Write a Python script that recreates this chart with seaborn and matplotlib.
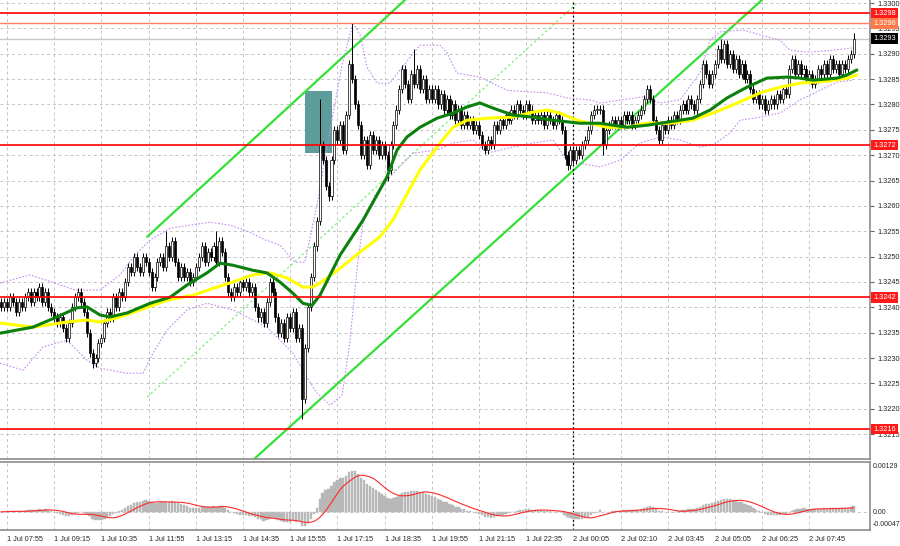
import matplotlib
matplotlib.use('Agg')
import matplotlib.pyplot as plt
import matplotlib.transforms as mtransforms
from matplotlib.patches import Rectangle
import seaborn as sns
import numpy as np
import pandas as pd

sns.set_style('white')
plt.rcParams['font.family'] = ['Liberation Sans Narrow', 'Liberation Sans', 'DejaVu Sans']

# 5-min closes, bar index -2 .. 287 (bar 0 = 1 Jul 07:55)
first_bar = -2
first_open = 1.3241
bar_close = [
    1.3240, 1.3241,
    1.3240, 1.3242, 1.3241, 1.3239, 1.3241, 1.3240, 1.3242, 1.3243, 1.3241, 1.3243, 1.3242, 1.3244, 1.3241, 1.3243, 1.3240, 1.3239,
    1.3238, 1.3237, 1.3238, 1.3236, 1.3234, 1.3237, 1.3240, 1.3242, 1.3243, 1.3241, 1.3239, 1.3235, 1.3231, 1.3229, 1.3230, 1.3233,
    1.3234, 1.3237, 1.3239, 1.3238, 1.3242, 1.3240, 1.3243, 1.3242, 1.3245, 1.3248, 1.3247, 1.3250, 1.3248, 1.3247, 1.3250, 1.3249,
    1.3247, 1.3244, 1.3246, 1.3249, 1.3250, 1.3248, 1.3252, 1.3250, 1.3253, 1.3249, 1.3246, 1.3248, 1.3246, 1.3247, 1.3245, 1.3246,
    1.3248, 1.3250, 1.3252, 1.3249, 1.3251, 1.3250, 1.3252, 1.3249, 1.3253, 1.3251, 1.3246, 1.3243, 1.3242, 1.3244, 1.3243, 1.3245,
    1.3244, 1.3245, 1.3243, 1.3244, 1.3240, 1.3238, 1.3239, 1.3237, 1.3241, 1.3245, 1.3243, 1.3238, 1.3235, 1.3237, 1.3234, 1.3238,
    1.3236, 1.3239, 1.3234, 1.3236, 1.3222, 1.3232, 1.3240, 1.3246, 1.3252, 1.3257, 1.3272, 1.3269, 1.3264, 1.3262, 1.3269, 1.3275,
    1.3273, 1.3276, 1.3271, 1.3278, 1.3288, 1.3285, 1.3280, 1.3276, 1.3270, 1.3273, 1.3268, 1.3274, 1.3271, 1.3273, 1.3270, 1.3272,
    1.3270, 1.3267, 1.3272, 1.3276, 1.3279, 1.3283, 1.3287, 1.3284, 1.3281, 1.3286, 1.3284, 1.3287, 1.3283, 1.3285, 1.3281, 1.3283,
    1.3281, 1.3283, 1.3280, 1.3282, 1.3279, 1.3281, 1.3278, 1.3280, 1.3277, 1.3279, 1.3276, 1.3278, 1.3276, 1.3277, 1.3275, 1.3276,
    1.3274, 1.3272, 1.3271, 1.3273, 1.3272, 1.3276, 1.3275, 1.3277, 1.3276, 1.3278, 1.3277, 1.3279, 1.3278, 1.3280, 1.3279, 1.3278,
    1.3280, 1.3279, 1.3277, 1.3278, 1.3277, 1.3278, 1.3276, 1.3278, 1.3277, 1.3276, 1.3278, 1.3277, 1.3275, 1.3270, 1.3268, 1.3271,
    1.3269, 1.3271, 1.3270, 1.3272, 1.3273, 1.3275, 1.3278, 1.3279, 1.3279, 1.3279, 1.3272, 1.3275, 1.3276, 1.3277, 1.3276, 1.3277,
    1.3276, 1.3278, 1.3277, 1.3278, 1.3276, 1.3277, 1.3278, 1.3279, 1.3281, 1.3283, 1.3281, 1.3277, 1.3275, 1.3273, 1.3276, 1.3275,
    1.3277, 1.3276, 1.3278, 1.3277, 1.3279, 1.3280, 1.3279, 1.3281, 1.3280, 1.3279, 1.3281, 1.3284, 1.3288, 1.3286, 1.3284, 1.3286,
    1.3288, 1.3291, 1.3289, 1.3292, 1.3288, 1.3290, 1.3287, 1.3289, 1.3286, 1.3288, 1.3285, 1.3286, 1.3283, 1.3281, 1.3282, 1.3280,
    1.3281, 1.3279, 1.3280, 1.3281, 1.3280, 1.3282, 1.3281, 1.3283, 1.3282, 1.3287, 1.3289, 1.3286, 1.3288, 1.3286, 1.3287, 1.3285,
    1.3286, 1.3284, 1.3285, 1.3287, 1.3286, 1.3288, 1.3286, 1.3289, 1.3287, 1.3288, 1.3286, 1.3288, 1.3287, 1.3289, 1.3290, 1.3293,
]
# long wicks that stick out
spike_high = {54: 1.3255, 71: 1.3255, 106: 1.3281, 117: 1.3296, 138: 1.3291, 242: 1.3293, 287: 1.3294}
spike_low = {29: 1.3228, 100: 1.3218, 109: 1.3261, 129: 1.3265, 190: 1.3267, 202: 1.3270}

# moving averages (green = 30, yellow = 50)
ma_green_i = [-2.4, 8.8, 16.9, 23.7, 27.1, 31.5, 34.9, 40.7, 48.5, 55.3, 61.0, 67.8, 72.2, 76.6, 83.4, 88.1,
              92.5, 96.9, 100.3, 103.4, 106.1, 112.9, 120.7, 128.8, 132.2, 135.6, 140.0, 145.8, 151.2, 155.9,
              160.3, 164.7, 171.5, 178.3, 185.1, 194.2, 201.0, 210.2, 216.9, 221.4, 232.5, 238.3, 244.1,
              250.8, 257.6, 264.4, 268.8, 273.2, 281.4, 284.7, 288.1]
ma_green_p = [1.32349, 1.32361, 1.32381, 1.32399, 1.32401, 1.32385, 1.32381, 1.32389, 1.32408, 1.32420,
              1.32444, 1.32468, 1.32487, 1.32483, 1.32473, 1.32468, 1.32450, 1.32428, 1.32408, 1.32404,
              1.32424, 1.32503, 1.32572, 1.32657, 1.32710, 1.32736, 1.32755, 1.32773, 1.32783, 1.32795,
              1.32803, 1.32793, 1.32779, 1.32775, 1.32769, 1.32763, 1.32763, 1.32755, 1.32759, 1.32763,
              1.32773, 1.32789, 1.32813, 1.32834, 1.32852, 1.32854, 1.32852, 1.32848, 1.32852, 1.32858, 1.32868]
ma_yellow_i = [-2.4, 8.8, 20.3, 27.1, 31.5, 37.3, 45.1, 54.2, 63.1, 71.2, 76.6, 83.4, 89.2, 94.9, 100.3,
               103.7, 106.1, 112.9, 119.7, 126.4, 130.8, 140.0, 146.8, 151.2, 155.9, 162.7, 171.5, 178.3,
               183.1, 187.5, 193.2, 203.4, 210.2, 216.9, 224.7, 232.5, 239.3, 246.1, 255.3, 262.0, 268.8,
               278.0, 284.7, 288.1]
ma_yellow_p = [1.32369, 1.32361, 1.32371, 1.32375, 1.32371, 1.32379, 1.32395, 1.32414, 1.32424, 1.32440,
               1.32450, 1.32464, 1.32468, 1.32458, 1.32440, 1.32440, 1.32448, 1.32477, 1.32509, 1.32539,
               1.32572, 1.32671, 1.32724, 1.32755, 1.32769, 1.32773, 1.32775, 1.32785, 1.32789, 1.32783,
               1.32769, 1.32755, 1.32755, 1.32763, 1.32763, 1.32769, 1.32783, 1.32799, 1.32823, 1.32834,
               1.32842, 1.32846, 1.32852, 1.32858]

# Bollinger bands
bb_up_i = [-2.4, 7.8, 16.3, 23.1, 31.5, 38.3, 43.4, 48.5, 55.3, 62.0, 68.8, 75.6, 82.4, 87.5, 92.5, 97.6,
           101.0, 105.4, 109.5, 113.6, 117.3, 119.7, 122.0, 125.4, 129.8, 133.2, 140.0, 146.8, 149.2, 152.5,
           160.3, 169.5, 176.3, 183.1, 189.8, 197.6, 201.0, 215.6, 221.4, 228.1, 234.9, 238.3, 241.7, 249.5,
           255.3, 262.0, 265.4, 272.2, 280.0, 285.8, 288.1]
bb_up_p = [1.32448, 1.32464, 1.32448, 1.32434, 1.32434, 1.32464, 1.32503, 1.32533, 1.32556, 1.32562,
           1.32568, 1.32562, 1.32548, 1.32533, 1.32523, 1.32489, 1.32489, 1.32612, 1.32750, 1.32878,
           1.32961, 1.32937, 1.32874, 1.32842, 1.32842, 1.32868, 1.32917, 1.32917, 1.32901, 1.32862,
           1.32854, 1.32828, 1.32825, 1.32823, 1.32813, 1.32809, 1.32803, 1.32815, 1.32803, 1.32809,
           1.32862, 1.32927, 1.32943, 1.32947, 1.32937, 1.32927, 1.32907, 1.32903, 1.32907, 1.32911, 1.32913]
bb_lo_i = [-2.4, 5.4, 12.2, 20.3, 27.1, 31.5, 40.7, 46.1, 49.5, 54.2, 61.0, 67.8, 76.6, 83.4, 88.1, 96.9,
           101.7, 105.1, 109.5, 113.6, 116.3, 118.6, 120.7, 124.7, 129.8, 137.6, 145.8, 151.2, 158.0, 162.7,
           171.5, 178.3, 185.1, 189.8, 194.2, 201.0, 207.8, 214.6, 221.4, 228.1, 234.9, 239.3, 245.1, 248.5,
           255.3, 262.0, 268.8, 275.6, 281.4, 286.8]
bb_lo_p = [1.32290, 1.32276, 1.32322, 1.32335, 1.32296, 1.32280, 1.32270, 1.32270, 1.32310, 1.32355,
           1.32395, 1.32408, 1.32395, 1.32375, 1.32361, 1.32310, 1.32262, 1.32231, 1.32207, 1.32227,
           1.32335, 1.32473, 1.32568, 1.32621, 1.32657, 1.32704, 1.32710, 1.32724, 1.32730, 1.32704,
           1.32716, 1.32724, 1.32730, 1.32690, 1.32684, 1.32677, 1.32690, 1.32724, 1.32736, 1.32730,
           1.32716, 1.32720, 1.32744, 1.32769, 1.32775, 1.32783, 1.32809, 1.32828, 1.32844, 1.32848]

# support / resistance levels
red_levels = [1.3298, 1.3272, 1.3242, 1.3216]
orange_level = 1.3296
last_price = 1.3293

# trend channel (bar index, price)
channel_up = ([47.5, 134.9], [1.32539, 1.33006])
channel_low = ([83.4, 255.9], [1.32099, 1.33006])
channel_mid = ([47.5, 193.2], [1.32223, 1.33000])
signal_box = (101.0, 110.2, 1.32704, 1.32827)

time_ticks = list(range(0, 273, 16))
time_labels = ['1 Jul 07:55', '1 Jul 09:15', '1 Jul 10:35', '1 Jul 11:55', '1 Jul 13:15', '1 Jul 14:35',
               '1 Jul 15:55', '1 Jul 17:15', '1 Jul 18:35', '1 Jul 19:55', '1 Jul 21:15', '1 Jul 22:35',
               '2 Jul 00:05', '2 Jul 02:10', '2 Jul 03:45', '2 Jul 05:05', '2 Jul 06:25', '2 Jul 07:45']
day_split = 192

# ---- candles
idx = np.arange(first_bar, first_bar + len(bar_close))
close = np.array(bar_close)
opn = np.concatenate([[first_open], close[:-1]])
hi = np.maximum(opn, close) + 0.00008
lo = np.minimum(opn, close) - 0.00008
for k, v in spike_high.items():
    hi[k - first_bar] = v
for k, v in spike_low.items():
    lo[k - first_bar] = v

# MACD 12/26/9 from the closes
s = pd.Series(close)
macd = s.ewm(span=12, adjust=False).mean() - s.ewm(span=26, adjust=False).mean()
signal = macd.rolling(9, min_periods=1).mean()

fig = plt.figure(figsize=(9, 5.46), dpi=100)
ax = fig.add_axes([0, 87 / 546, 870 / 900, 459 / 546])
ax2 = fig.add_axes([0, 16 / 546, 870 / 900, 68 / 546], sharex=ax)

grid_kw = dict(color='#c4c4c4', linestyle=(0, (3, 3)), linewidth=0.7)
for a in (ax, ax2):
    a.set_facecolor('white')
    a.grid(True, **grid_kw)
    a.set_axisbelow(True)
    for side in ('top', 'left'):
        a.spines[side].set_visible(False)
    for side in ('bottom', 'right'):
        a.spines[side].set_color('#8c8c8c')
        a.spines[side].set_linewidth(1.2)
ax2.spines['top'].set_visible(True)
ax2.spines['top'].set_color('#8c8c8c')
ax2.spines['top'].set_linewidth(1.2)

ax.set_xlim(-7 / 2.95, 863 / 2.95)
ax.set_ylim(1.32101, 1.33006)

# signal rectangle
x0, x1, y0, y1 = signal_box
ax.add_patch(Rectangle((x0, y0), x1 - x0, y1 - y0, facecolor='#5e9c9c', edgecolor='none', zorder=1.5))

# channel
ax.plot(*channel_up, color='#33e033', lw=1.6, zorder=2)
ax.plot(*channel_low, color='#33e033', lw=1.6, zorder=2)
ax.plot(*channel_mid, color='#7cf07c', lw=0.9, ls=(0, (2, 2)), zorder=2)

# bollinger
sns.lineplot(x=bb_up_i, y=bb_up_p, ax=ax, color='#c58cf0', lw=0.8, linestyle=(0, (1.5, 1.5)), sort=False, zorder=2.5)
sns.lineplot(x=bb_lo_i, y=bb_lo_p, ax=ax, color='#c58cf0', lw=0.8, linestyle=(0, (1.5, 1.5)), sort=False, zorder=2.5)

# candles
up = close >= opn
ax.vlines(idx, lo, hi, color='black', lw=0.7, zorder=3)
body = np.maximum(np.abs(close - opn), 0.00002)
ax.bar(idx[up], body[up], bottom=np.minimum(opn, close)[up], width=0.7, color='white',
       edgecolor='black', linewidth=0.5, zorder=3.2)
ax.bar(idx[~up], body[~up], bottom=np.minimum(opn, close)[~up], width=0.7, color='black',
       edgecolor='black', linewidth=0.5, zorder=3.2)

# moving averages
sns.lineplot(x=ma_yellow_i, y=ma_yellow_p, ax=ax, color='#ffff00', lw=2.2, sort=False, zorder=4)
sns.lineplot(x=ma_green_i, y=ma_green_p, ax=ax, color='#0c800c', lw=2.2, sort=False, zorder=4.2)

# levels
for lv in red_levels:
    ax.axhline(lv, color='#ff0000', lw=1.2, zorder=5)
ax.axhline(orange_level, color='#ff8060', lw=1.0, zorder=5)
ax.axhline(last_price, color='#c8c8c8', lw=1.0, zorder=1.8)

ax.axvline(day_split, color='black', lw=0.9, ls=(0, (1.5, 2)), zorder=2)
ax2.axvline(day_split, color='black', lw=0.9, ls=(0, (1.5, 2)), zorder=2)

# price scale
ax.yaxis.tick_right()
ax.set_yticks(np.round(np.arange(1.3215, 1.33001, 0.0005), 4))
ax.set_yticklabels([f'{v:.4f}' for v in np.arange(1.3215, 1.33001, 0.0005)])
ax.tick_params(axis='y', direction='out', length=3, width=0.8, color='#606060', labelsize=5.3, pad=2)
ax.tick_params(axis='x', length=0, labelbottom=False)
ax.set_xlabel('')
ax.set_ylabel('')

trans = mtransforms.blended_transform_factory(ax.transAxes, ax.transData)
box_levels = [(1.3298, '#ff1a1a'), (orange_level, '#ff7a4a'), (last_price, '#000000'),
              (1.3272, '#ff1a1a'), (1.3242, '#ff1a1a'), (1.3216, '#ff1a1a')]
for lv, col in box_levels:
    ax.text(1.0035, lv, f'{lv:.4f}', transform=trans, fontsize=5.3, color='white', ha='left', va='center',
            bbox=dict(boxstyle='square,pad=0.25', fc=col, ec='none'), zorder=10, clip_on=False)

# MACD panel
ax2.bar(idx, macd, width=0.8, color='#b8b8b8', edgecolor='#b8b8b8', linewidth=0.3, zorder=2)
sns.lineplot(x=idx, y=signal, ax=ax2, color='#ff2a2a', lw=0.8, zorder=3)
ax2.axhline(0, **grid_kw)
ax2.set_ylim(-0.00047, 0.00129)
ax2.set_yticks([])
ax2.set_xlabel('')
ax2.set_ylabel('')
ax2.set_xticks(time_ticks)
ax2.set_xticklabels(time_labels)
ax2.tick_params(axis='x', direction='out', length=3, width=0.8, color='#606060', labelsize=5.3, pad=1)
for lbl in ax2.get_xticklabels():
    lbl.set_ha('left')

for txt, ypx in [('0.00129', 467), ('0.00', 512), ('-0.00047', 525)]:
    fig.text(873 / 900, (546 - ypx) / 546, txt, fontsize=5.0, ha='left', va='center')

fig.savefig('out.png', dpi=100)
